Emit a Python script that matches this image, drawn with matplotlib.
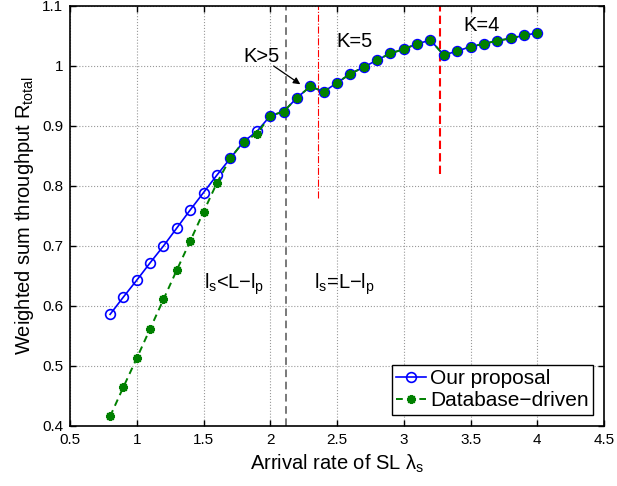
import matplotlib
matplotlib.use("Agg")
import matplotlib.pyplot as plt
import numpy as np

plt.rcParams['font.family'] = ['Liberation Sans', 'DejaVu Sans']
plt.rcParams['mathtext.fontset'] = 'custom'
plt.rcParams['mathtext.rm'] = 'Liberation Sans'
plt.rcParams['mathtext.it'] = 'Liberation Sans'
plt.rcParams['mathtext.bf'] = 'Liberation Sans:bold'

# Data
x_vals = [0.8, 0.9, 1.0, 1.1, 1.2, 1.3, 1.4, 1.5, 1.6, 1.7, 1.8, 1.9, 2.0, 2.1,
          2.2, 2.3, 2.4, 2.5, 2.6, 2.7, 2.8, 2.9, 3.0, 3.1, 3.2, 3.3, 3.4, 3.5,
          3.6, 3.7, 3.8, 3.9, 4.0]
our_proposal = [0.586, 0.615, 0.643, 0.672, 0.700, 0.730, 0.760, 0.789, 0.818,
                0.846, 0.874, 0.891, 0.917, 0.924, 0.947, 0.966, 0.957, 0.972,
                0.987, 0.998, 1.010, 1.021, 1.028, 1.037, 1.043, 1.018, 1.025,
                1.032, 1.037, 1.042, 1.046, 1.051, 1.055]
database_driven = [0.416, 0.465, 0.513, 0.562, 0.611, 0.660, 0.708, 0.757, 0.805,
                   0.846, 0.874, 0.887, 0.917, 0.924, 0.947, 0.966, 0.957, 0.972,
                   0.987, 0.998, 1.010, 1.021, 1.028, 1.037, 1.043, 1.018, 1.025,
                   1.032, 1.037, 1.042, 1.046, 1.051, 1.055]
x_ticks = [0.5, 1, 1.5, 2, 2.5, 3, 3.5, 4, 4.5]
y_ticks = [0.4, 0.5, 0.6, 0.7, 0.8, 0.9, 1.0, 1.1]
x_tick_labels = ['0.5', '1', '1.5', '2', '2.5', '3', '3.5', '4', '4.5']
y_tick_labels = ['0.4', '0.5', '0.6', '0.7', '0.8', '0.9', '1', '1.1']
vline_gray_x = 2.12
vline_dashdot = (2.355, 0.78)
vline_red = (3.27, 0.82)

fig = plt.figure(figsize=(6.17, 4.86), dpi=100)
ax = fig.add_axes([0.1135, 0.1235, 0.8655, 0.8642])

ax.plot(x_vals, our_proposal, color='#0000ff', linestyle='-', linewidth=1.2,
        marker='o', markersize=7, markerfacecolor='none', markeredgecolor='#0000ff',
        markeredgewidth=1.2, label='Our proposal', zorder=3)
ax.plot(x_vals, database_driven, color='#008000', linestyle='--', linewidth=1.4,
        dashes=(3.5, 2.5), marker=(8, 2, 0), markersize=6.5, markerfacecolor='#008000',
        markeredgecolor='#008000', markeredgewidth=1.6, label='Database\u2212driven', zorder=4)

ax.axvline(vline_gray_x, color='#555555', linestyle=(0, (5, 3)), linewidth=1.1, zorder=2)
ax.plot([vline_dashdot[0], vline_dashdot[0]], [vline_dashdot[1], 1.1], color='#ff0000',
        linestyle='-.', linewidth=0.8, zorder=2)
ax.plot([vline_red[0], vline_red[0]], [vline_red[1], 1.1], color='#ff0000',
        linestyle=(0, (4, 2)), linewidth=1.5, zorder=2)

ax.text(1.795, 1.015, 'K>5', fontsize=14.5, ha='left', va='center')
ax.annotate('', xy=(2.225, 0.9695), xytext=(2.025, 1.0),
            arrowprops=dict(arrowstyle='-|>', color='black', lw=0.9,
                            mutation_scale=10, shrinkA=0, shrinkB=0))
ax.text(2.493, 1.040, 'K=5', fontsize=14.5, ha='left', va='center')
ax.text(3.45, 1.068, 'K=4', fontsize=14.5, ha='left', va='center')
ax.text(1.5, 0.628, r'$\mathregular{l_s}$<L$-$$\mathregular{l_p}$', fontsize=14.5,
        ha='left', va='baseline')
ax.text(2.325, 0.628, r'$\mathregular{l_s}$=L$-$$\mathregular{l_p}$', fontsize=14.5,
        ha='left', va='baseline')

ax.set_xlim(0.5, 4.5)
ax.set_ylim(0.4, 1.1)
ax.set_xticks(x_ticks)
ax.set_xticklabels(x_tick_labels)
ax.set_yticks(y_ticks)
ax.set_yticklabels(y_tick_labels)
ax.tick_params(direction='in', top=True, right=True, labelsize=11, length=4,
               width=1.0, pad=5)
ax.grid(True, linestyle=':', color='#999999', linewidth=0.8)
ax.set_axisbelow(True)
for s in ax.spines.values():
    s.set_linewidth(1.2)

ax.set_xlabel(r'Arrival rate of SL $\mathregular{\lambda_s}$', fontsize=14.5, labelpad=4)
ax.set_ylabel(r'Weighted sum throughput R$_\mathregular{total}$', fontsize=14.5, labelpad=4)

leg = ax.legend(loc='lower right', fontsize=15, frameon=True, fancybox=False,
                edgecolor='black', framealpha=1, borderaxespad=0.55,
                handlelength=1.4, handletextpad=0.2, borderpad=0.2,
                labelspacing=0.15)
leg.get_frame().set_linewidth(1.0)

fig.savefig('out.png', dpi=100)
